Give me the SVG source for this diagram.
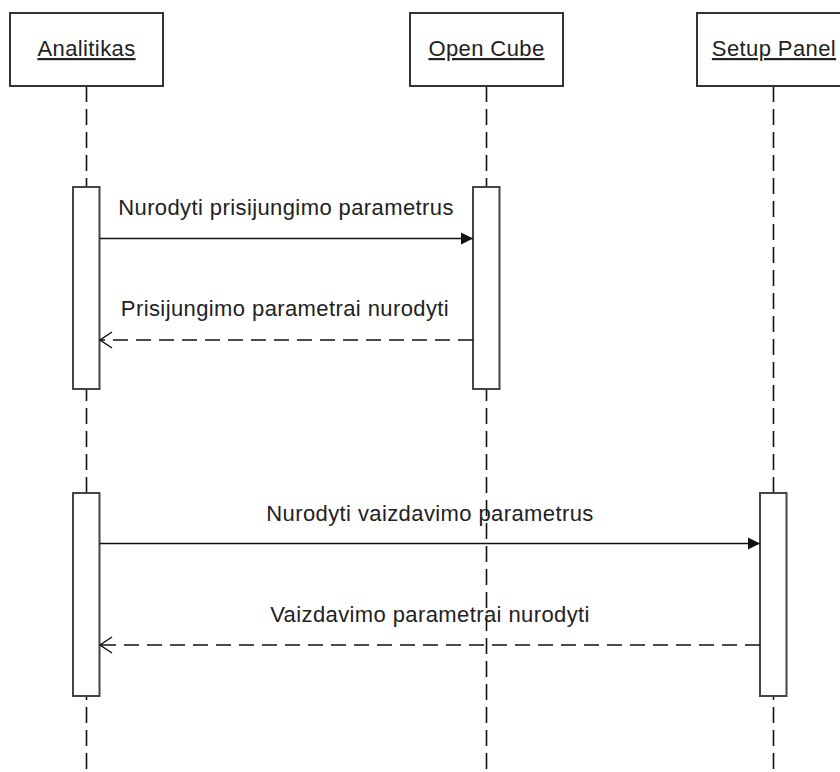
<svg xmlns="http://www.w3.org/2000/svg" width="840" height="772" viewBox="0 0 840 772">
  <style>
    .head { fill: #ffffff; stroke: #333333; stroke-width: 2; }
    .act { fill: #ffffff; stroke: #444444; stroke-width: 2; }
    .life { stroke: #111111; stroke-width: 1.6; stroke-dasharray: 16 7; fill: none; }
    .msg { stroke: #111111; stroke-width: 1.5; fill: none; }
    .ret { stroke: #111111; stroke-width: 1.5; fill: none; stroke-dasharray: 15 8; }
    .name { font-family: "Liberation Sans", Arial, sans-serif; font-size: 22px; letter-spacing: 0.4px; fill: #222222; text-anchor: middle; text-decoration: underline; }
    .lbl { font-family: "Liberation Sans", Arial, sans-serif; font-size: 22px; letter-spacing: 0.4px; fill: #222222; text-anchor: middle; }
  </style>
  <defs>
    <marker id="solidHead" markerWidth="14" markerHeight="14" refX="12" refY="7" orient="auto" markerUnits="userSpaceOnUse">
      <path d="M0,1 L12,7 L0,13 Z" fill="#111111"/>
    </marker>
    <marker id="openHead" markerWidth="16" markerHeight="20" refX="13" refY="10" orient="auto" markerUnits="userSpaceOnUse">
      <path d="M1,2 L13,10 L1,18" fill="none" stroke="#111111" stroke-width="1.5"/>
    </marker>
  </defs>
  <rect width="840" height="772" fill="#ffffff"/>

  <!-- lifelines -->
  <g id="lifelines">
    <line class="life" x1="86.5" y1="86" x2="86.5" y2="772"/>
    <line class="life" x1="486.5" y1="86" x2="486.5" y2="772"/>
    <line class="life" x1="773.5" y1="86" x2="773.5" y2="772"/>
  </g>

  <g id="analitikas">
    <rect class="head" x="10" y="13" width="153" height="73"/>
    <text class="name" x="86.5" y="56">Analitikas</text>
    <rect class="act" x="73" y="187" width="26.5" height="202"/>
    <rect class="act" x="73" y="493" width="26.5" height="203"/>
  </g>

  <g id="open-cube">
    <rect class="head" x="410" y="13" width="153" height="73"/>
    <text class="name" x="486.5" y="56">Open Cube</text>
    <rect class="act" x="473" y="187" width="26.5" height="202"/>
  </g>

  <g id="setup-panel">
    <rect class="head" x="697" y="13" width="153" height="73"/>
    <text class="name" x="774" y="56">Setup Panel</text>
    <rect class="act" x="760" y="493" width="26.5" height="203"/>
  </g>

  <!-- messages -->
  <g id="connectors">
    <line class="msg" x1="100" y1="238.5" x2="473" y2="238.5" marker-end="url(#solidHead)"/>
    <text class="lbl" x="286" y="215">Nurodyti prisijungimo parametrus</text>

    <line class="ret" x1="473" y1="340" x2="100" y2="340" marker-end="url(#openHead)"/>
    <text class="lbl" x="285" y="316">Prisijungimo parametrai nurodyti</text>

    <line class="msg" x1="100" y1="543.5" x2="760" y2="543.5" marker-end="url(#solidHead)"/>
    <text class="lbl" x="430" y="521">Nurodyti vaizdavimo parametrus</text>

    <line class="ret" x1="760" y1="645" x2="100" y2="645" marker-end="url(#openHead)"/>
    <text class="lbl" x="430" y="622">Vaizdavimo parametrai nurodyti</text>
  </g>
</svg>
